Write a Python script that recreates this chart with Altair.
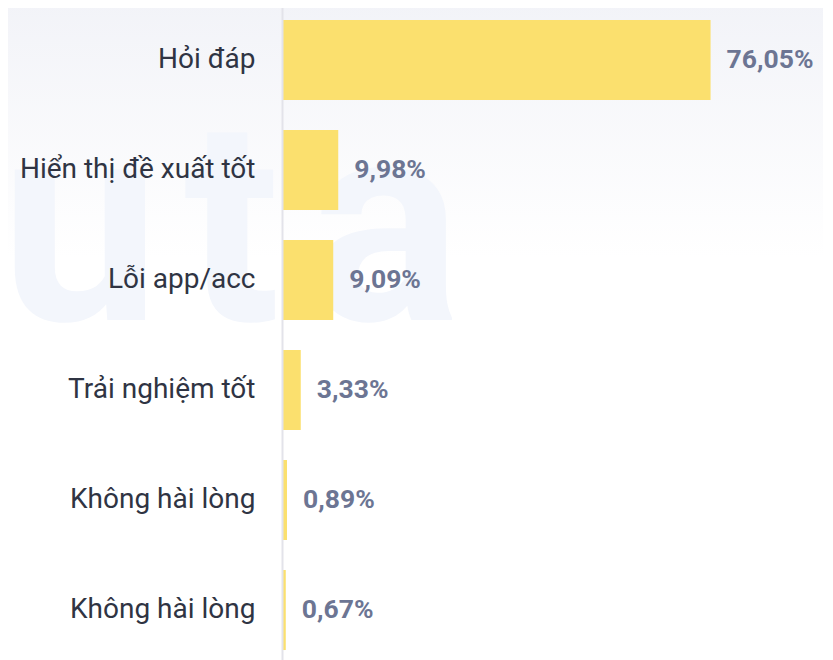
import altair as alt
import pandas as pd

categories = ["Hỏi đáp", "Hiển thị đề xuất tốt", "Lỗi app/acc", "Trải nghiệm tốt", "Không hài lòng", "Không hài lòng"]
values = [76.05, 9.98, 9.09, 3.33, 0.89, 0.67]
value_labels = ["76,05%", "9,98%", "9,09%", "3,33%", "0,89%", "0,67%"]

df = pd.DataFrame({
    "idx": list(range(len(categories))),
    "cat": categories,
    "val": values,
    "lbl": value_labels,
})

label_expr = "[" + ",".join("'" + c + "'" for c in categories) + "][datum.value]"

W, H = 541, 660

bg = alt.Chart(pd.DataFrame({"a": [0]})).mark_rect(
    color=alt.Gradient(
        gradient="linear",
        stops=[alt.GradientStop(color="#F2F3F8", offset=0), alt.GradientStop(color="#FFFFFF", offset=1)],
        x1=0, x2=0, y1=0, y2=1,
    )
).encode(x=alt.value(-290), x2=alt.value(W + 20), y=alt.value(-10), y2=alt.value(250))

wm_letters = ["u", "t", "a"]
wm_x = [-202, -50, 103]
wm_layers = [
    alt.Chart(pd.DataFrame({"t": [ch]})).mark_text(
        font="Roboto", fontSize=285, fontWeight="bold", color="#F3F6FC", align="center", baseline="alphabetic"
    ).encode(text="t:N", x=alt.value(xv), y=alt.value(312))
    for ch, xv in zip(wm_letters, wm_x)
]

y_enc = alt.Y(
    "idx:N",
    sort="ascending",
    title=None,
    scale=alt.Scale(paddingInner=0.2727, paddingOuter=0.136, range=[-3, H - 3]),
    axis=alt.Axis(
        labelExpr=label_expr,
        labelFont="Roboto",
        labelFontSize=28,
        labelColor="#2F3443",
        labelPadding=27,
        ticks=False,
        domainColor="#E3E3EA",
        domainWidth=2,
        grid=False,
        labelLimit=400,
        zindex=2,
    ),
)
x_enc = alt.X("val:Q", title=None, scale=alt.Scale(domain=[0, 96]), axis=None)

bars = alt.Chart(df).mark_bar(color="#FBE06E").encode(x=x_enc, y=y_enc)
text = alt.Chart(df).mark_text(
    align="left", baseline="middle", dx=16, font="Roboto", fontSize=26.5, fontWeight="bold", color="#6C7593"
).encode(x=x_enc, y=y_enc, text="lbl:N")

chart = alt.layer(bg, *wm_layers, bars, text).properties(
    width=W,
    height=H,
    autosize=alt.AutoSizeParams(type="none"),
    padding={"left": 274, "top": 0, "right": 0, "bottom": 0},
    background="#FFFFFF",
).configure_view(stroke=None)

chart.save("out.html", embed_options={"renderer": "svg", "actions": False})
